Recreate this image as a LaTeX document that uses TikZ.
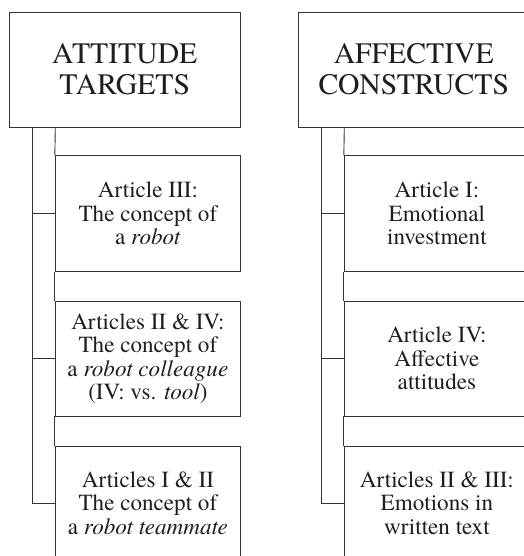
\documentclass[tikz,border=0pt]{standalone}
\usepackage{fontspec}
\setmainfont{texgyretermes}[Extension=.otf, UprightFont=*-regular, ItalicFont=*-italic, BoldFont=*-bold, BoldItalicFont=*-bolditalic]
\definecolor{linec}{HTML}{333333}
\definecolor{textc}{HTML}{1E1E1E}
\tikzset{
  hdrbox/.style={draw=linec, line width=0.9bp, rectangle, inner sep=0pt,
    minimum width=231.5bp, minimum height=115bp, align=center, text=textc,
    font=\fontsize{29.8}{31}\selectfont},
  artbox/.style={draw=linec, line width=0.9bp, rectangle, inner sep=0pt,
    minimum width=185.2bp, align=center, text=textc,
    font=\fontsize{23.2}{23.6}\selectfont},
  barline/.style={draw=linec, line width=0.9bp}
}
\begin{document}
\begin{tikzpicture}[x=1bp,y=-1bp]
\useasboundingbox (0,0) rectangle (524,556);
\clip (0,0) rectangle (524,556);
\fill[white] (0,0) rectangle (524,556);
% left column
\node[hdrbox] (hL) at (124.75,69.5) {ATTITUDE\\TARGETS};
\node[artbox, minimum height=115.8bp] (l1) at (147.9,213.6) {Article III:\\The concept of\\a \textit{robot}};
\node[artbox, minimum height=115bp] (l2) at (147.9,358.5) {Articles II \& IV:\\The concept of\\a \textit{robot colleague}\\(IV: vs. \textit{tool})};
\node[artbox, minimum height=114bp] (l3) at (147.9,503) {Articles I \& II\\The concept of\\a \textit{robot teammate}};
\coordinate (lA) at (32.5,127);
\coordinate (lB) at (55.3,127);
\draw[barline] (lA) |- (l1.west);
\draw[barline] (lA) |- (l2.west);
\draw[barline] (lA) |- (l3.west);
\draw[barline] (lB) -- (l1.north west);
\draw[barline] (l1.south west) -- (l2.north west);
\draw[barline] (l2.south west) -- (l3.north west);
% right column
\node[hdrbox] (hR) at (413.75,69.5) {AFFECTIVE\\CONSTRUCTS};
\node[artbox, minimum height=115.8bp] (r1) at (436.9,213.6) {Article I:\\Emotional\\investment};
\node[artbox, minimum height=115bp] (r2) at (436.9,358.5) {Article IV:\\Affective\\attitudes};
\node[artbox, minimum height=114bp] (r3) at (436.9,503) {Articles II \& III:\\Emotions in\\written text};
\coordinate (rA) at (321.5,127);
\coordinate (rB) at (344.3,127);
\draw[barline] (rA) |- (r1.west);
\draw[barline] (rA) |- (r2.west);
\draw[barline] (rA) |- (r3.west);
\draw[barline] (rB) -- (r1.north west);
\draw[barline] (r1.south west) -- (r2.north west);
\draw[barline] (r2.south west) -- (r3.north west);
\end{tikzpicture}
\end{document}
